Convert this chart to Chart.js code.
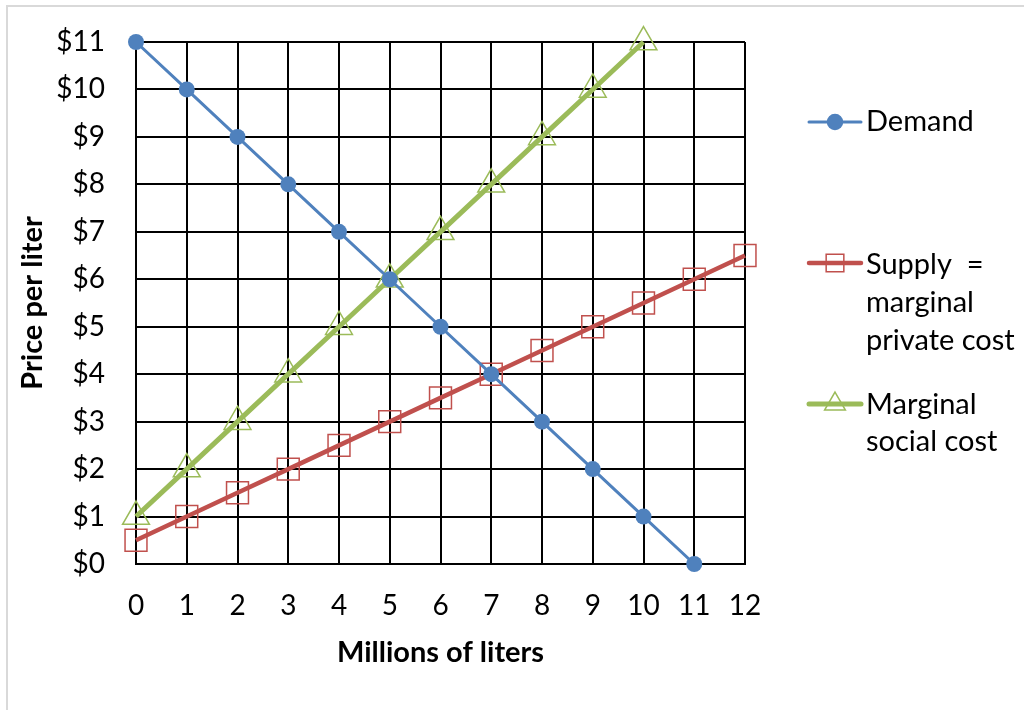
<!DOCTYPE html>
<html>
<head>
<meta charset="utf-8">
<script src="https://cdn.jsdelivr.net/npm/chart.js@4/dist/chart.umd.min.js"></script>
<style>
  html, body { margin: 0; padding: 0; background: #fff; }
  #wrap { position: relative; width: 1024px; height: 710px; }
</style>
</head>
<body>
<div id="wrap"><canvas id="c" width="1024" height="710"></canvas></div>
<script>
// Quantities (millions of liters) and prices ($ per liter)
const demandQty   = [0, 1, 2, 3, 4, 5, 6, 7, 8, 9, 10, 11];
const demandPrice = [11, 10, 9, 8, 7, 6, 5, 4, 3, 2, 1, 0];

const supplyQty   = [0, 1, 2, 3, 4, 5, 6, 7, 8, 9, 10, 11, 12];
const supplyPrice = [0.5, 1, 1.5, 2, 2.5, 3, 3.5, 4, 4.5, 5, 5.5, 6, 6.5];

const mscQty   = [0, 1, 2, 3, 4, 5, 6, 7, 8, 9, 10];
const mscPrice = [1, 2, 3, 4, 5, 6, 7, 8, 9, 10, 11];

const seriesNames = ['Demand', 'Supply  =\nmarginal\nprivate cost', 'Marginal\nsocial cost'];
const xTitle = 'Millions of liters';
const yTitle = 'Price per liter';

const BLUE = '#4F81BD', RED = '#C0504D', GREEN = '#9BBB59';
const FONT = 'Lato, "Open Sans", sans-serif';

const pts = (xs, ys) => xs.map((x, i) => ({ x: x, y: ys[i] }));

// Frame line, axis titles and multi-line legend drawn on the canvas
const decor = {
  id: 'decor',
  beforeDraw(chart) {
    const ctx = chart.ctx;
    ctx.save();
    ctx.fillStyle = '#fff';
    ctx.fillRect(0, 0, chart.width, chart.height);
    ctx.strokeStyle = '#d9d9d9';
    ctx.lineWidth = 2;
    ctx.strokeRect(7, 6, 1100, 800);
    ctx.restore();
  },
  afterDraw(chart) {
    const ctx = chart.ctx;
    const area = chart.chartArea;
    ctx.save();
    // axis titles
    ctx.fillStyle = '#000';
    ctx.font = 'bold 29px ' + FONT;
    ctx.textAlign = 'center';
    ctx.textBaseline = 'middle';
    ctx.fillText(xTitle, (area.left + area.right) / 2, 653);
    ctx.save();
    ctx.translate(33, (area.top + area.bottom) / 2);
    ctx.rotate(-Math.PI / 2);
    ctx.fillText(yTitle, 0, 0);
    ctx.restore();

    // legend
    const entries = [
      { ds: 0, y: 122, lines: [122] },
      { ds: 1, y: 263, lines: [265, 303, 341] },
      { ds: 2, y: 404, lines: [405, 442] }
    ];
    entries.forEach(e => {
      const ds = chart.data.datasets[e.ds];
      ctx.strokeStyle = ds.borderColor;
      ctx.lineWidth = ds.borderWidth;
      ctx.lineCap = 'round';
      ctx.beginPath();
      ctx.moveTo(809, e.y);
      ctx.lineTo(861, e.y);
      ctx.stroke();
      ctx.lineWidth = 1.5;
      ctx.strokeStyle = ds.pointBorderColor;
      ctx.fillStyle = ds.pointBackgroundColor;
      Chart.helpers.drawPoint(ctx, {
        pointStyle: ds.pointStyle,
        radius: ds.legendRadius,
        borderWidth: 1.5,
        rotation: 0
      }, 835, e.y);
      ctx.fillStyle = '#000';
      ctx.font = '29px ' + FONT;
      ctx.textBaseline = 'middle';
      ctx.textAlign = 'left';
      seriesNames[e.ds].split('\n').forEach((t, i) => {
        ctx.fillText(t, 866, e.lines[i]);
      });
    });
    ctx.restore();
  }
};

new Chart(document.getElementById('c'), {
  type: 'line',
  data: {
    datasets: [
      {
        label: 'Demand',
        data: pts(demandQty, demandPrice),
        borderColor: BLUE, borderWidth: 3,
        pointStyle: 'circle', pointRadius: 8,
        pointBackgroundColor: BLUE, pointBorderColor: BLUE, pointBorderWidth: 0,
        legendRadius: 7.5
      },
      {
        label: 'Supply = marginal private cost',
        data: pts(supplyQty, supplyPrice),
        borderColor: RED, borderWidth: 4.5,
        pointStyle: 'rect', pointRadius: 15.5,
        pointBackgroundColor: 'rgba(0,0,0,0)', pointBorderColor: RED, pointBorderWidth: 1.5,
        legendRadius: 12.5
      },
      {
        label: 'Marginal social cost',
        data: pts(mscQty, mscPrice),
        borderColor: GREEN, borderWidth: 5,
        pointStyle: 'triangle', pointRadius: 15.5,
        pointBackgroundColor: 'rgba(0,0,0,0)', pointBorderColor: GREEN, pointBorderWidth: 1.5,
        legendRadius: 12
      }
    ]
  },
  options: {
    responsive: false,
    animation: false,
    clip: false,
    layout: { padding: { left: 0, top: 42, right: 279, bottom: 0 } },
    plugins: { legend: { display: false }, tooltip: { enabled: false } },
    elements: { line: { tension: 0 } },
    scales: {
      x: {
        type: 'linear', min: 0, max: 12,
        afterFit(s) { s.height = 146; s.paddingLeft = 0; s.paddingRight = 0; },
        ticks: { stepSize: 1, padding: 25, color: '#000', font: { family: FONT, size: 28 } },
        grid: { color: '#000', lineWidth: 2, drawTicks: false },
        border: { color: '#000', width: 2 }
      },
      y: {
        type: 'linear', min: 0, max: 11,
        afterFit(s) { s.width = 136; s.paddingTop = 0; s.paddingBottom = 0; },
        ticks: { stepSize: 1, padding: 31, color: '#000', font: { family: FONT, size: 28 },
                 callback: v => '$' + v },
        grid: { color: '#000', lineWidth: 2, drawTicks: false },
        border: { color: '#000', width: 2 }
      }
    }
  },
  plugins: [decor]
});
</script>
</body>
</html>
